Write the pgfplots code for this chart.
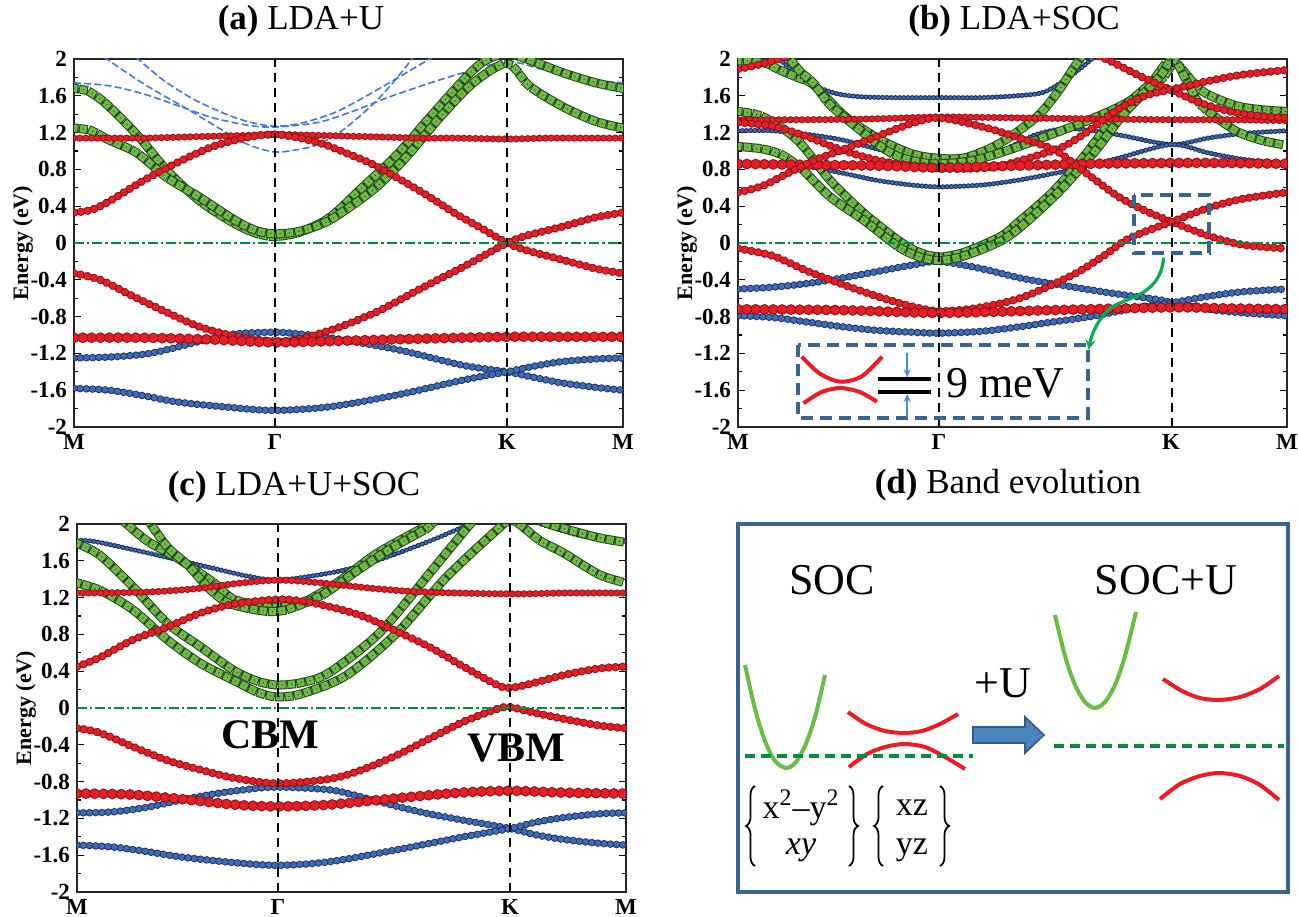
\documentclass[border=0pt]{standalone}
\usepackage{fontspec}
\setmainfont{Liberation Serif}
\usepackage{pgfplots}
\pgfplotsset{compat=1.18}
\usetikzlibrary{arrows.meta,decorations.pathreplacing}

\definecolor{rfill}{RGB}{232,30,38}
\definecolor{redge}{RGB}{140,20,25}
\definecolor{gfill}{RGB}{110,188,70}
\definecolor{gedge}{RGB}{35,70,28}
\definecolor{bfill}{RGB}{62,108,184}
\definecolor{bedge}{RGB}{28,48,92}
\definecolor{fermi}{RGB}{0,140,62}
\definecolor{dashblue}{RGB}{70,118,205}
\definecolor{boxblue}{RGB}{58,100,140}
\definecolor{arrgreen}{RGB}{10,170,80}
\definecolor{arrblue}{RGB}{70,140,210}
\definecolor{schgreen}{RGB}{104,189,69}
\definecolor{schred}{RGB}{236,28,36}
\definecolor{blockfill}{RGB}{76,132,192}
\definecolor{blockedge}{RGB}{50,92,135}

\tikzset{
 rS/.style={draw=redge, line width=3.6bp, line cap=round, dash pattern=on 0.01bp off 2.9bp,
   postaction={draw=rfill, line width=2.6bp, line cap=round, dash pattern=on 0.01bp off 2.9bp}},
 rM/.style={draw=redge, line width=4.2bp, line cap=round, dash pattern=on 0.01bp off 3.4bp,
   postaction={draw=rfill, line width=3.1bp, line cap=round, dash pattern=on 0.01bp off 3.4bp}},
 rL/.style={draw=redge, line width=5.4bp, line cap=round, dash pattern=on 0.01bp off 4.4bp,
   postaction={draw=rfill, line width=4.2bp, line cap=round, dash pattern=on 0.01bp off 4.4bp}},
 gM/.style={draw=gedge, line width=4.5bp, line cap=rect, dash pattern=on 0.01bp off 4.7bp,
   postaction={draw=gfill, line width=3.5bp, line cap=rect, dash pattern=on 0.01bp off 4.7bp},
   postaction={draw=gedge, line width=0.7bp, line cap=round, dash pattern=on 0.01bp off 4.7bp}},
 bS/.style={draw=bedge, line width=2.6bp, line cap=round, dash pattern=on 0.01bp off 2.1bp,
   postaction={draw=bfill, line width=1.8bp, line cap=round, dash pattern=on 0.01bp off 2.1bp}},
 bM/.style={draw=bedge, line width=3.8bp, line cap=round, dash pattern=on 0.01bp off 3.1bp,
   postaction={draw=bfill, line width=2.8bp, line cap=round, dash pattern=on 0.01bp off 3.1bp}},
 dbl/.style={dashblue, line width=0.8bp, dash pattern=on 3.5bp off 1.6bp},
 vln/.style={black, line width=1bp, dash pattern=on 4.5bp off 3bp},
 fln/.style={fermi, line width=0.9bp, dash pattern=on 5bp off 1.5bp on 1.2bp off 1.5bp},
 brc/.style={decorate, decoration={brace, amplitude=4.5bp}, line width=0.9bp, black},
}

\pgfplotsset{
 bandaxis/.style={
  scale only axis, width=274.5bp, height=184bp,
  xmin=0, xmax=1.577, ymin=-2, ymax=2,
  xtick={0,0.577,1.244,1.577}, xticklabels={M,Γ,K,M},
  xtick style={draw=none},
  ytick={-2,-1.6,-1.2,-0.8,-0.4,0,0.4,0.8,1.2,1.6,2},
  yticklabels={-2,-1.6,-1.2,-0.8,-0.4,0,0.4,0.8,1.2,1.6,2},
  minor ytick={-1.8,-1.4,-1,-0.6,-0.2,0.2,0.6,1,1.4,1.8},
  ytick pos=both, yticklabel pos=left,
  tick align=inside,
  major tick length=3.5bp, minor tick length=2bp,
  ytick style={black, line width=0.6bp},
  axis line style={line width=1.3bp, black!85},
  ticklabel style={font=\bfseries\fontsize{11.5bp}{11.5bp}\selectfont},
  ylabel={Energy (eV)},
  ylabel style={font=\bfseries\fontsize{11bp}{12bp}\selectfont, at={(axis description cs:-0.093,0.5)}, anchor=center},
  clip=true,
 },
}

\begin{document}
\begin{tikzpicture}
\useasboundingbox (0,0) rectangle (649bp,458.5bp);

% ---------------- (a) LDA+U ----------------
\begin{axis}[bandaxis, at={(37bp,245bp)}, anchor=south west]
\addplot[dbl, smooth] coordinates {(0,1.74)(0.1,1.71)(0.2,1.62)(0.3,1.49)(0.4,1.36)(0.5,1.28)(0.577,1.26)(0.7,1.31)(0.8,1.43)(0.9,1.58)(1.0,1.71)(1.1,1.83)(1.244,1.97)(1.35,1.88)(1.45,1.79)(1.577,1.74)};
\addplot[dbl, smooth] coordinates {(0.086,2.02)(0.2,1.73)(0.328,1.45)(0.42,1.24)(0.5,1.07)(0.577,0.99)(0.65,1.02)(0.707,1.08)(0.78,1.25)(0.862,1.52)(0.92,1.76)(0.975,2.02)};
\addplot[dbl, smooth] coordinates {(0.178,2.02)(0.26,1.76)(0.35,1.55)(0.45,1.38)(0.52,1.30)(0.577,1.27)(0.65,1.30)(0.75,1.42)(0.85,1.62)(0.95,1.84)(1.03,2.02)};
\addplot[smooth, bM] coordinates {(0,-1.25)(0.1,-1.24)(0.2,-1.21)(0.267,-1.16)(0.36,-1.07)(0.457,-0.99)(0.577,-0.97)(0.65,-0.99)(0.735,-1.03)(0.93,-1.16)(1.118,-1.33)(1.244,-1.40)(1.32,-1.46)(1.4,-1.52)(1.5,-1.57)(1.577,-1.60)};
\addplot[smooth, bM] coordinates {(0,-1.58)(0.1,-1.60)(0.2,-1.66)(0.3,-1.73)(0.457,-1.79)(0.577,-1.82)(0.735,-1.78)(0.93,-1.65)(1.118,-1.49)(1.244,-1.40)(1.32,-1.34)(1.4,-1.29)(1.5,-1.26)(1.577,-1.25)};
\addplot[smooth, gM] coordinates {(0,1.68)(0.04,1.65)(0.09,1.52)(0.18,1.18)(0.267,0.79)(0.36,0.46)(0.457,0.22)(0.52,0.11)(0.577,0.07)(0.65,0.12)(0.735,0.28)(0.83,0.61)(0.928,0.96)(1.023,1.37)(1.118,1.77)(1.176,1.97)(1.24,2.06)(1.30,2.0)(1.405,1.85)(1.5,1.74)(1.577,1.68)};
\addplot[smooth, gM] coordinates {(0,1.25)(0.05,1.22)(0.1,1.12)(0.18,0.98)(0.267,0.71)(0.36,0.50)(0.457,0.26)(0.52,0.14)(0.577,0.10)(0.65,0.13)(0.735,0.25)(0.86,0.58)(0.956,0.94)(1.05,1.36)(1.147,1.74)(1.244,1.95)(1.31,1.70)(1.405,1.48)(1.5,1.32)(1.577,1.25)};
\addplot[smooth, rS] coordinates {(0,1.14)(0.1,1.14)(0.2,1.14)(0.3,1.15)(0.4,1.16)(0.5,1.17)(0.577,1.18)(0.7,1.17)(0.8,1.16)(0.9,1.15)(1.0,1.14)(1.1,1.14)(1.244,1.13)(1.35,1.14)(1.45,1.14)(1.577,1.14)};
\addplot[smooth, rM] coordinates {(0,0.33)(0.05,0.36)(0.1,0.45)(0.2,0.68)(0.3,0.88)(0.4,1.05)(0.5,1.15)(0.577,1.18)(0.65,1.14)(0.72,1.07)(0.78,0.98)(0.85,0.87)(0.90,0.77)(1.0,0.55)(1.1,0.31)(1.166,0.17)(1.244,0.0)(1.3,-0.08)(1.4,-0.18)(1.5,-0.28)(1.577,-0.33)};
\addplot[smooth, rM] coordinates {(0,-0.33)(0.075,-0.40)(0.17,-0.58)(0.27,-0.76)(0.36,-0.91)(0.46,-1.01)(0.577,-1.07)(0.65,-1.04)(0.735,-0.95)(0.8,-0.86)(0.88,-0.73)(0.974,-0.54)(1.05,-0.39)(1.118,-0.26)(1.244,0.0)(1.3,0.08)(1.405,0.18)(1.5,0.28)(1.577,0.33)};
\addplot[smooth, rL] coordinates {(0,-1.03)(0.2,-1.03)(0.4,-1.05)(0.577,-1.08)(0.8,-1.06)(1.0,-1.04)(1.244,-1.02)(1.4,-1.02)(1.577,-1.02)};
\draw[vln] (axis cs:0.577,-2) -- (axis cs:0.577,2);
\draw[vln] (axis cs:1.244,-2) -- (axis cs:1.244,2);
\draw[fln] (axis cs:0,0) -- (axis cs:1.577,0);
\end{axis}

% ---------------- (b) LDA+SOC ----------------
\begin{axis}[bandaxis, at={(369bp,245bp)}, anchor=south west]
\addplot[smooth, bS] coordinates {(0.10,2.05)(0.15,1.90)(0.196,1.75)(0.276,1.63)(0.35,1.59)(0.45,1.58)(0.578,1.58)(0.7,1.58)(0.8,1.60)(0.879,1.64)(0.95,1.8)(1.01,1.98)(1.03,2.05)};
\addplot[smooth, bS] coordinates {(0,1.22)(0.1,1.22)(0.2,1.18)(0.3,1.12)(0.4,1.02)(0.5,0.92)(0.578,0.88)(0.65,0.90)(0.75,0.99)(0.85,1.17)(0.93,1.24)(1.0,1.23)(1.1,1.17)(1.246,1.07)(1.35,1.14)(1.45,1.19)(1.577,1.22)};
\addplot[smooth, bS] coordinates {(0,0.86)(0.1,0.86)(0.2,0.83)(0.3,0.76)(0.4,0.68)(0.5,0.63)(0.578,0.61)(0.7,0.63)(0.8,0.68)(0.9,0.75)(1.0,0.83)(1.1,0.93)(1.246,1.07)(1.35,0.98)(1.45,0.91)(1.577,0.86)};
\addplot[smooth, bM] coordinates {(0,-0.50)(0.1,-0.48)(0.2,-0.44)(0.3,-0.38)(0.4,-0.31)(0.5,-0.24)(0.578,-0.20)(0.7,-0.28)(0.81,-0.38)(0.9,-0.44)(1.013,-0.51)(1.1,-0.56)(1.215,-0.62)(1.246,-0.65)(1.35,-0.72)(1.45,-0.76)(1.577,-0.79)};
\addplot[smooth, bM] coordinates {(0,-0.79)(0.1,-0.81)(0.2,-0.86)(0.3,-0.91)(0.4,-0.95)(0.5,-0.97)(0.578,-0.98)(0.7,-0.96)(0.81,-0.91)(0.9,-0.86)(1.013,-0.80)(1.166,-0.69)(1.246,-0.65)(1.35,-0.58)(1.45,-0.53)(1.577,-0.50)};
\addplot[smooth, gM] coordinates {(0,1.98)(0.073,1.96)(0.12,1.88)(0.17,1.80)(0.216,1.72)(0.31,1.37)(0.41,1.12)(0.5,0.97)(0.578,0.92)(0.655,0.93)(0.75,1.08)(0.858,1.37)(0.92,1.65)(0.96,1.88)(0.99,2.04)};
\addplot[smooth, gM] coordinates {(0.14,2.04)(0.18,1.86)(0.216,1.74)(0.265,1.50)(0.34,1.26)(0.41,1.05)(0.46,0.94)(0.52,0.88)(0.578,0.86)(0.68,0.90)(0.8,1.04)(0.9,1.18)(1.01,1.34)(1.114,1.52)(1.216,1.78)(1.26,2.04)};
\addplot[smooth, gM] coordinates {(0,1.43)(0.073,1.37)(0.17,1.12)(0.265,0.68)(0.36,0.33)(0.46,0.03)(0.52,-0.10)(0.578,-0.15)(0.65,-0.10)(0.754,0.07)(0.80,0.21)(0.90,0.54)(0.993,0.94)(1.09,1.41)(1.186,1.74)(1.246,1.98)(1.33,1.66)(1.425,1.50)(1.5,1.45)(1.577,1.43)};
\addplot[smooth, gM] coordinates {(0,1.05)(0.073,1.02)(0.13,0.95)(0.187,0.79)(0.265,0.50)(0.36,0.25)(0.46,-0.04)(0.52,-0.15)(0.578,-0.19)(0.65,-0.14)(0.754,0.02)(0.82,0.20)(0.92,0.55)(1.02,0.97)(1.11,1.41)(1.21,1.80)(1.25,2.0)(1.29,1.75)(1.33,1.50)(1.425,1.23)(1.5,1.12)(1.577,1.06)};
\addplot[smooth, rS] coordinates {(0,1.34)(0.2,1.34)(0.4,1.35)(0.578,1.37)(0.8,1.36)(1.0,1.35)(1.246,1.34)(1.4,1.34)(1.577,1.33)};
\addplot[smooth, rM] coordinates {(0,1.89)(0.05,1.93)(0.1,1.98)(0.14,2.03)};
\addplot[smooth, rM] coordinates {(1.0,2.08)(1.062,1.99)(1.157,1.81)(1.246,1.66)(1.33,1.52)(1.425,1.42)(1.5,1.38)(1.577,1.36)};
\addplot[smooth, rM] coordinates {(0,1.31)(0.1,1.27)(0.195,1.16)(0.298,1.01)(0.4,0.90)(0.5,0.84)(0.578,0.81)(0.68,0.81)(0.754,0.84)(0.85,0.94)(0.93,1.04)(1.0,1.2)(1.09,1.45)(1.17,1.60)(1.246,1.67)(1.35,1.76)(1.45,1.83)(1.577,1.88)};
\addplot[smooth, rL] coordinates {(0,0.86)(0.2,0.85)(0.4,0.84)(0.578,0.82)(0.8,0.84)(1.0,0.86)(1.246,0.87)(1.4,0.87)(1.577,0.86)};
\addplot[smooth, rM] coordinates {(0,0.55)(0.07,0.62)(0.144,0.76)(0.22,0.90)(0.298,1.01)(0.42,1.19)(0.5,1.30)(0.578,1.36)(0.705,1.26)(0.81,1.14)(0.91,1.01)(0.993,0.78)(1.09,0.51)(1.17,0.35)(1.246,0.23)(1.35,0.08)(1.45,-0.02)(1.577,-0.06)};
\addplot[smooth, rM] coordinates {(0,-0.06)(0.1,-0.14)(0.196,-0.30)(0.3,-0.45)(0.4,-0.58)(0.5,-0.69)(0.578,-0.74)(0.68,-0.71)(0.81,-0.60)(0.96,-0.35)(1.05,-0.14)(1.113,0.03)(1.18,0.14)(1.246,0.23)(1.35,0.38)(1.45,0.48)(1.577,0.55)};
\addplot[smooth, rL] coordinates {(0,-0.72)(0.3,-0.73)(0.578,-0.76)(0.9,-0.73)(1.246,-0.70)(1.4,-0.71)(1.577,-0.72)};
\draw[vln, line width=0.8bp] (axis cs:0.578,-2) -- (axis cs:0.578,2);
\draw[vln, line width=0.8bp] (axis cs:1.246,-2) -- (axis cs:1.246,2);
\draw[fln] (axis cs:0,0) -- (axis cs:1.577,0);
% inset
\draw[boxblue, line width=2bp, dash pattern=on 6bp off 3.5bp] (axis cs:0.173,-1.109) rectangle (axis cs:1.004,-1.902);
\draw[boxblue, line width=2bp, dash pattern=on 6bp off 3.5bp] (axis cs:1.137,0.522) rectangle (axis cs:1.353,-0.109);
\draw[arrgreen, line width=1.6bp, -{Stealth[length=5bp,width=5bp]}] (axis cs:1.223,-0.16) .. controls (axis cs:1.21,-0.62) and (axis cs:1.10,-0.58) .. (axis cs:1.06,-0.74) .. controls (axis cs:1.03,-0.86) and (axis cs:1.015,-1.0) .. (axis cs:1.007,-1.16);
\addplot[schred, line width=2bp, smooth] coordinates {(0.183,-1.236)(0.235,-1.42)(0.294,-1.508)(0.355,-1.45)(0.414,-1.236)};
\addplot[schred, line width=2bp, smooth] coordinates {(0.188,-1.742)(0.24,-1.62)(0.294,-1.576)(0.35,-1.62)(0.399,-1.725)};
\draw[black, line width=1.6bp] (axis cs:0.403,-1.478) -- (axis cs:0.553,-1.478);
\draw[black, line width=1.6bp] (axis cs:0.403,-1.620) -- (axis cs:0.553,-1.620);
\draw[arrblue, line width=0.8bp, -{Stealth[length=4bp,width=3.5bp]}] (axis cs:0.486,-1.196) -- (axis cs:0.486,-1.46);
\draw[arrblue, line width=0.8bp, -{Stealth[length=4bp,width=3.5bp]}] (axis cs:0.486,-1.891) -- (axis cs:0.486,-1.64);
\node[font=\fontsize{22bp}{22bp}\selectfont] at (axis cs:0.768,-1.53) {9 meV};
\end{axis}

% ---------------- (c) LDA+U+SOC ----------------
\begin{axis}[bandaxis, at={(38.5bp,12.5bp)}, anchor=south west]
\addplot[smooth, bM] coordinates {(0,-1.14)(0.1,-1.13)(0.2,-1.08)(0.3,-1.0)(0.4,-0.93)(0.5,-0.88)(0.577,-0.86)(0.727,-0.89)(0.82,-0.97)(0.92,-1.07)(1.01,-1.15)(1.11,-1.22)(1.244,-1.31)(1.32,-1.38)(1.4,-1.43)(1.5,-1.47)(1.577,-1.49)};
\addplot[smooth, bM] coordinates {(0,-1.49)(0.1,-1.51)(0.2,-1.56)(0.3,-1.62)(0.45,-1.68)(0.577,-1.71)(0.727,-1.67)(0.92,-1.54)(1.11,-1.40)(1.244,-1.31)(1.32,-1.24)(1.4,-1.19)(1.5,-1.15)(1.577,-1.14)};
\addplot[smooth, bS] coordinates {(0,1.82)(0.05,1.81)(0.186,1.70)(0.39,1.52)(0.494,1.43)(0.577,1.39)(0.70,1.45)(0.8,1.53)(0.905,1.66)(1.01,1.81)(1.11,1.97)(1.14,2.03)};
\addplot[smooth, bS] coordinates {(1.30,2.04)(1.35,1.98)(1.45,1.87)(1.577,1.81)};
\addplot[smooth, gM] coordinates {(0,1.79)(0.066,1.66)(0.16,1.32)(0.26,0.92)(0.353,0.67)(0.45,0.41)(0.52,0.29)(0.577,0.25)(0.65,0.28)(0.727,0.39)(0.87,0.82)(1.014,1.47)(1.13,2.0)(1.16,2.1)};
\addplot[smooth, gM] coordinates {(1.30,2.1)(1.34,2.02)(1.40,1.95)(1.5,1.85)(1.577,1.80)};
\addplot[smooth, gM] coordinates {(0,1.36)(0.066,1.28)(0.16,1.07)(0.26,0.74)(0.353,0.49)(0.45,0.30)(0.52,0.17)(0.577,0.12)(0.65,0.16)(0.776,0.36)(0.92,0.82)(1.063,1.43)(1.225,2.0)(1.244,2.04)(1.27,2.0)(1.33,1.82)(1.40,1.68)(1.5,1.45)(1.577,1.36)};
\addplot[smooth, gM] coordinates {(0.134,2.03)(0.2,1.82)(0.288,1.63)(0.39,1.37)(0.442,1.2)(0.5,1.13)(0.577,1.10)(0.65,1.15)(0.75,1.37)(0.853,1.66)(0.95,1.87)(1.03,2.03)};
\addplot[smooth, gM] coordinates {(0.206,2.03)(0.26,1.75)(0.319,1.55)(0.39,1.26)(0.45,1.12)(0.577,1.05)(0.70,1.22)(0.80,1.48)(0.905,1.74)(1.008,1.96)(1.02,2.03)};
\addplot[smooth, rS] coordinates {(0,1.25)(0.2,1.26)(0.35,1.30)(0.45,1.35)(0.577,1.39)(0.7,1.36)(0.85,1.30)(1.0,1.26)(1.244,1.24)(1.4,1.25)(1.577,1.25)};
\addplot[smooth, rM] coordinates {(0,0.45)(0.066,0.55)(0.16,0.74)(0.26,0.88)(0.353,1.03)(0.45,1.13)(0.577,1.18)(0.65,1.16)(0.727,1.10)(0.82,1.0)(0.92,0.83)(1.014,0.66)(1.11,0.45)(1.207,0.25)(1.244,0.22)(1.3,0.26)(1.4,0.36)(1.5,0.43)(1.577,0.45)};
\addplot[smooth, rM] coordinates {(0,-0.22)(0.066,-0.27)(0.16,-0.42)(0.26,-0.57)(0.353,-0.67)(0.45,-0.76)(0.577,-0.82)(0.727,-0.77)(0.82,-0.67)(0.92,-0.51)(1.014,-0.33)(1.11,-0.15)(1.207,-0.01)(1.244,0.01)(1.3,-0.04)(1.4,-0.12)(1.5,-0.19)(1.577,-0.22)};
\addplot[smooth, rL] coordinates {(0,-0.93)(0.15,-0.94)(0.3,-0.99)(0.45,-1.05)(0.577,-1.07)(0.727,-1.05)(0.92,-0.98)(1.1,-0.92)(1.244,-0.90)(1.4,-0.92)(1.577,-0.93)};
\draw[vln] (axis cs:0.577,-2) -- (axis cs:0.577,2);
\draw[vln] (axis cs:1.244,-2) -- (axis cs:1.244,2);
\draw[fln] (axis cs:0,0) -- (axis cs:1.577,0);
\end{axis}

% ---------------- (d) Band evolution ----------------
\begin{axis}[at={(369bp,12.5bp)}, anchor=south west, scale only axis, width=275bp, height=184bp,
  xmin=738, xmax=1288, ymin=524, ymax=892, y dir=reverse, xtick=\empty, ytick=\empty,
  axis line style={boxblue, line width=1.6bp}, clip=false]
\addplot[schgreen, line width=2bp, smooth] coordinates {(745,665)(755,709)(765,741)(775,761)(786,768)(795,763)(805,746)(815,717)(825,675)};
\addplot[schred, line width=2bp, smooth] coordinates {(848,712)(866,724)(885,731)(904,733)(922,731)(940,724)(958,714)};
\addplot[schred, line width=2bp, smooth] coordinates {(849,767)(867,754)(885,747)(904,744)(925,747)(945,757)(965,769)};
\addplot[fermi, line width=1.8bp, dash pattern=on 5bp off 3bp] coordinates {(745,756)(973,756)};
\addplot[schgreen, line width=2bp, smooth] coordinates {(1055,615)(1065,656)(1075,685)(1085,702)(1095,708)(1105,702)(1115,685)(1125,656)(1136,612)};
\addplot[schred, line width=2bp, smooth] coordinates {(1163,679)(1182,691)(1200,698)(1219,700)(1240,697)(1260,689)(1279,676)};
\addplot[schred, line width=2bp, smooth] coordinates {(1160,799)(1180,784)(1200,776)(1219,773)(1240,776)(1260,785)(1279,800)};
\addplot[fermi, line width=1.8bp, dash pattern=on 5bp off 3bp] coordinates {(1054,746)(1284,746)};
\draw[fill=blockfill, draw=blockedge, line width=0.8bp] (axis cs:973,727) -- (axis cs:1025,727) -- (axis cs:1025,717) -- (axis cs:1044,735) -- (axis cs:1025,753) -- (axis cs:1025,743) -- (axis cs:973,743) -- cycle;
\node[font=\fontsize{22bp}{22bp}\selectfont] at (axis cs:832,580) {SOC};
\node[font=\fontsize{22bp}{22bp}\selectfont] at (axis cs:1166,580) {SOC+U};
\node[font=\fontsize{22bp}{22bp}\selectfont] at (axis cs:1003,683) {+U};
\draw[brc] (axis cs:755,866) -- (axis cs:755,786);
\draw[brc] (axis cs:849,786) -- (axis cs:849,866);
\draw[brc] (axis cs:883,866) -- (axis cs:883,786);
\draw[brc] (axis cs:940,786) -- (axis cs:940,866);
\node[font=\fontsize{17bp}{17bp}\selectfont, inner sep=0pt] at (axis cs:801,808) {x\textsuperscript{2}--y\textsuperscript{2}};
\node[font=\fontsize{17bp}{17bp}\selectfont, inner sep=0pt] at (axis cs:801,850) {\textit{xy}};
\node[font=\fontsize{17bp}{17bp}\selectfont, inner sep=0pt] at (axis cs:912,808) {xz};
\node[font=\fontsize{17bp}{17bp}\selectfont, inner sep=0pt] at (axis cs:912,850) {yz};
\end{axis}

% titles and labels
\node[font=\fontsize{17.5bp}{17.5bp}\selectfont] at (150.5bp,448bp) {\textbf{(a)} LDA+U};
\node[font=\fontsize{17.5bp}{17.5bp}\selectfont] at (507bp,448bp) {\textbf{(b)} LDA+SOC};
\node[font=\fontsize{17.5bp}{17.5bp}\selectfont] at (147bp,215bp) {\textbf{(c)} LDA+U+SOC};
\node[font=\fontsize{17.5bp}{17.5bp}\selectfont] at (504bp,216bp) {\textbf{(d)} Band evolution};
\node[font=\bfseries\fontsize{21bp}{21bp}\selectfont] at (135bp,91bp) {CBM};
\node[font=\bfseries\fontsize{21bp}{21bp}\selectfont] at (258bp,84.5bp) {VBM};
\end{tikzpicture}
\end{document}
